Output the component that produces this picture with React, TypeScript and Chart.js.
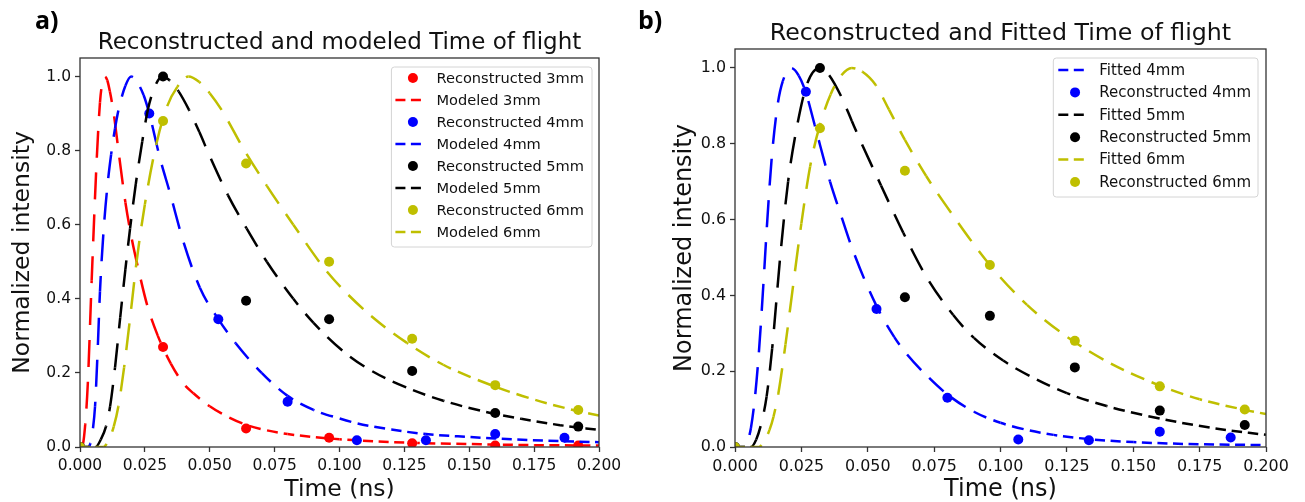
import React, { useEffect, useRef } from 'react';
import { Chart, registerables } from 'chart.js';

Chart.register(...registerables);

const FONT = "'DejaVu Sans', sans-serif";

// ---------- ticks ----------
const xTicks = [0, 0.025, 0.05, 0.075, 0.1, 0.125, 0.15, 0.175, 0.2];
const yTicks = [0, 0.2, 0.4, 0.6, 0.8, 1.0];

// ---------- panel a : reconstructed points ----------
const recTimeA = [0, 0.032, 0.064, 0.096, 0.128, 0.16, 0.192];
const recTime4 = [0, 0.0267, 0.0533, 0.08, 0.1067, 0.1333, 0.16, 0.1867];
const recA3mm = [0, 0.27, 0.05, 0.025, 0.01, 0.004, 0.004];
const recA4mm = [0, 0.9, 0.345, 0.122, 0.018, 0.018, 0.035, 0.025];
const recA5mm = [0, 1.0, 0.395, 0.345, 0.205, 0.092, 0.055];
const recA6mm = [0, 0.88, 0.765, 0.5, 0.292, 0.167, 0.1];

// ---------- panel a : modeled curves ----------
const modA3mmT = [0, 0.001, 0.002, 0.003, 0.0045, 0.0064, 0.0077, 0.0085, 0.0094, 0.0105, 0.0115, 0.013, 0.015, 0.0175, 0.02, 0.0225, 0.026, 0.03, 0.035, 0.04, 0.0437, 0.05, 0.056, 0.064, 0.072, 0.08, 0.09, 0.1, 0.115, 0.13, 0.15, 0.175, 0.2];
const modA3mmV = [0, 0.005, 0.06, 0.17, 0.45, 0.77, 0.93, 0.98, 1.0, 0.99, 0.96, 0.9, 0.79, 0.66, 0.56, 0.48, 0.38, 0.3, 0.225, 0.17, 0.145, 0.11, 0.085, 0.06, 0.045, 0.035, 0.027, 0.021, 0.015, 0.011, 0.008, 0.005, 0.004];

const modA4mmT = [0, 0.003, 0.004, 0.005, 0.0058, 0.0068, 0.0077, 0.009, 0.0105, 0.012, 0.0135, 0.015, 0.0175, 0.0197, 0.022, 0.0245, 0.0267, 0.0308, 0.0347, 0.0398, 0.0462, 0.0533, 0.06, 0.07, 0.08, 0.09, 0.1, 0.1067, 0.12, 0.1333, 0.15, 0.16, 0.18, 0.2];
const modA4mmV = [0, 0, 0.01, 0.05, 0.11, 0.26, 0.42, 0.575, 0.7, 0.79, 0.86, 0.915, 0.975, 1.0, 0.985, 0.95, 0.9, 0.78, 0.685, 0.555, 0.43, 0.345, 0.28, 0.2, 0.138, 0.1, 0.077, 0.064, 0.047, 0.035, 0.027, 0.023, 0.017, 0.013];

const modA5mmT = [0, 0.006, 0.008, 0.01, 0.0116, 0.0135, 0.0155, 0.0175, 0.0193, 0.0215, 0.024, 0.0263, 0.029, 0.0317, 0.0345, 0.038, 0.042, 0.046, 0.05, 0.057, 0.0642, 0.072, 0.0822, 0.09, 0.1015, 0.112, 0.126, 0.14, 0.155, 0.17, 0.185, 0.2];
const modA5mmV = [0, 0, 0.02, 0.055, 0.11, 0.215, 0.35, 0.48, 0.59, 0.71, 0.825, 0.915, 0.975, 1.0, 0.99, 0.96, 0.91, 0.85, 0.785, 0.68, 0.59, 0.5, 0.4, 0.335, 0.258, 0.207, 0.16, 0.125, 0.097, 0.076, 0.059, 0.046];

const modA6mmT = [0, 0.009, 0.011, 0.013, 0.0148, 0.017, 0.0195, 0.0218, 0.025, 0.0295, 0.0335, 0.0375, 0.0418, 0.046, 0.05, 0.055, 0.063, 0.072, 0.0822, 0.095, 0.11, 0.126, 0.14, 0.16, 0.175, 0.19, 0.2];
const modA6mmV = [0, 0, 0.018, 0.055, 0.11, 0.215, 0.36, 0.5, 0.655, 0.82, 0.918, 0.972, 1.0, 0.985, 0.955, 0.905, 0.805, 0.705, 0.6, 0.475, 0.367, 0.281, 0.222, 0.163, 0.128, 0.1, 0.085];

// ---------- panel b : reconstructed points ----------
const recB4mm = [0, 0.937, 0.364, 0.13, 0.02, 0.018, 0.04, 0.025];
const recB5mm = [0, 1.0, 0.395, 0.346, 0.21, 0.096, 0.058];
const recB6mm = [0, 0.841, 0.729, 0.48, 0.28, 0.16, 0.099];

// ---------- panel b : fitted curves ----------
const fitB4mmT = [0, 0.004, 0.005, 0.006, 0.0075, 0.009, 0.0107, 0.012, 0.0138, 0.016, 0.018, 0.0211, 0.024, 0.0266, 0.03, 0.0358, 0.04, 0.0446, 0.0531, 0.06, 0.0647, 0.072, 0.0803, 0.09, 0.1, 0.11, 0.12, 0.133, 0.15, 0.17, 0.2];
const fitB4mmV = [0, 0, 0.02, 0.05, 0.13, 0.25, 0.43, 0.58, 0.76, 0.9, 0.965, 1.0, 0.98, 0.937, 0.85, 0.7, 0.61, 0.515, 0.375, 0.29, 0.245, 0.19, 0.137, 0.093, 0.064, 0.045, 0.032, 0.021, 0.013, 0.008, 0.005];

const fitB5mmT = [0, 0.006, 0.008, 0.01, 0.0119, 0.014, 0.017, 0.02, 0.0232, 0.027, 0.0318, 0.035, 0.04, 0.044, 0.0471, 0.055, 0.0634, 0.072, 0.0822, 0.09, 0.101, 0.112, 0.125, 0.14, 0.16, 0.18, 0.2];
const fitB5mmV = [0, 0, 0.02, 0.065, 0.133, 0.26, 0.5, 0.7, 0.84, 0.955, 1.0, 0.985, 0.925, 0.86, 0.81, 0.69, 0.565, 0.45, 0.348, 0.288, 0.228, 0.184, 0.142, 0.108, 0.075, 0.05, 0.032];

const fitB6mmT = [0, 0.009, 0.011, 0.013, 0.0145, 0.0163, 0.019, 0.022, 0.025, 0.0283, 0.0318, 0.036, 0.04, 0.044, 0.048, 0.053, 0.058, 0.064, 0.072, 0.0822, 0.096, 0.11, 0.125, 0.14, 0.16, 0.175, 0.192, 0.2];
const fitB6mmV = [0, 0, 0.015, 0.045, 0.08, 0.14, 0.27, 0.432, 0.59, 0.74, 0.845, 0.93, 0.98, 1.0, 0.99, 0.955, 0.89, 0.81, 0.715, 0.61, 0.48, 0.375, 0.291, 0.226, 0.162, 0.126, 0.098, 0.087];

const RED = '#ff0000';
const BLUE = '#0000ff';
const BLACK = '#000000';
const OLIVE = '#bfbf00';
const DASH = [10, 5.5];
const CYCLE = DASH[0] + DASH[1];
const STEEP_STRETCH = 2.7;

function pts(t: number[], v: number[]) {
  return t.map((x, i) => ({ x, y: v[i] }));
}

// dash scale of a piece of curve: longer dashes on steep parts, as in the source figure
function stretchOf(a: any, b: any) {
  const dx = Math.abs(b.x - a.x);
  const dy = Math.abs(b.y - a.y);
  const len = Math.hypot(dx, dy) || 1;
  return Math.sqrt((dx / len) ** 2 + STEEP_STRETCH * STEEP_STRETCH * (dy / len) ** 2);
}

function dashInfo(c: any) {
  const els = c.chart.getDatasetMeta(c.datasetIndex).data;
  let phase = 0;
  for (let k = 0; k < c.p0DataIndex; k++) {
    const a = els[k];
    const b = els[k + 1];
    phase += Math.hypot(b.x - a.x, b.y - a.y) / (CYCLE * stretchOf(a, b));
  }
  const f = stretchOf(c.p0, c.p1);
  return { dash: [DASH[0] * f, DASH[1] * f], offset: (phase % 1) * CYCLE * f };
}

function scatterDs(label: string, color: string, t: number[], v: number[]) {
  return {
    label,
    data: pts(t, v),
    showLine: false,
    pointRadius: 5,
    pointHoverRadius: 5,
    pointBorderWidth: 0,
    backgroundColor: color,
    borderColor: color,
    pointBackgroundColor: color,
    clip: 0,
  };
}

function lineDs(label: string, color: string, t: number[], v: number[]) {
  return {
    label,
    data: pts(t, v),
    showLine: true,
    pointRadius: 0,
    borderWidth: 2.5,
    borderDash: DASH,
    borderCapStyle: 'butt',
    borderColor: color,
    backgroundColor: color,
    fill: false,
    cubicInterpolationMode: 'monotone',
    segment: {
      borderDash: (c: any) => dashInfo(c).dash,
      borderDashOffset: (c: any) => dashInfo(c).offset,
    },
    clip: 0,
  };
}

const decorPlugin = {
  id: 'mplDecor',
  afterDatasetsDraw(chart: any, _args: any, opts: any) {
    const { ctx, chartArea: ca } = chart;
    ctx.save();
    // frame
    ctx.strokeStyle = '#333333';
    ctx.lineWidth = 1.3;
    ctx.strokeRect(ca.left, ca.top, ca.right - ca.left, ca.bottom - ca.top);
    // title
    ctx.fillStyle = '#111111';
    ctx.font = `${opts.titleFont}px ${FONT}`;
    ctx.textAlign = 'center';
    ctx.textBaseline = 'alphabetic';
    ctx.fillText(opts.title, (ca.left + ca.right) / 2, ca.top - opts.titleGap);
    // legend
    const fs = opts.legendFont;
    ctx.font = `${fs}px ${FONT}`;
    const ds = chart.data.datasets;
    const items = ds.map((d: any) => ({ label: d.label, color: d.borderColor, kind: d.showLine ? 'line' : 'marker' }));
    const textW = Math.max(...items.map((it: any) => ctx.measureText(it.label).width));
    const { padL, handle, gapT, padR, markOff } = opts;
    const w = padL + handle + gapT + textW + padR;
    const h = items.length * opts.rowH + opts.extraH;
    const x0 = ca.right - opts.offRight - w;
    const y0 = ca.top + opts.offTop;
    ctx.beginPath();
    (ctx as any).roundRect(x0, y0, w, h, 3);
    ctx.fillStyle = 'rgba(255,255,255,0.8)';
    ctx.fill();
    ctx.strokeStyle = '#d4d4d4';
    ctx.lineWidth = 1;
    ctx.stroke();
    ctx.textAlign = 'left';
    ctx.textBaseline = 'middle';
    items.forEach((it: any, i: number) => {
      const cy = y0 + opts.firstRow + i * opts.rowH;
      if (it.kind === 'line') {
        ctx.save();
        ctx.strokeStyle = it.color;
        ctx.lineWidth = 2.5;
        ctx.setLineDash(DASH);
        ctx.beginPath();
        ctx.moveTo(x0 + padL, cy);
        ctx.lineTo(x0 + padL + handle, cy);
        ctx.stroke();
        ctx.restore();
      } else {
        ctx.beginPath();
        ctx.fillStyle = it.color;
        ctx.arc(x0 + padL + handle / 2 + markOff, cy, 5, 0, Math.PI * 2);
        ctx.fill();
      }
      ctx.fillStyle = '#111111';
      ctx.fillText(it.label, x0 + padL + handle + gapT, cy + 1);
    });
    ctx.restore();
  },
};

function makeOptions(cfg: any) {
  return {
    animation: false,
    responsive: false,
    devicePixelRatio: 1,
    events: [],
    layout: { padding: { top: cfg.top, right: cfg.right, left: 0, bottom: 0 } },
    plugins: {
      legend: { display: false },
      tooltip: { enabled: false },
      title: { display: false },
      mplDecor: cfg.decor,
    },
    scales: {
      x: {
        type: 'linear',
        min: 0,
        max: 0.2,
        afterBuildTicks: (s: any) => {
          s.ticks = xTicks.map((v) => ({ value: v }));
        },
        afterFit: (s: any) => {
          s.height = cfg.xHeight;
        },
        ticks: {
          callback: (v: any) => Number(v).toFixed(3),
          font: { family: FONT, size: cfg.tickFont },
          color: '#111111',
          padding: 5,
          maxRotation: 0,
          autoSkip: false,
        },
        grid: { drawOnChartArea: false, drawTicks: true, tickLength: 5, tickColor: '#333333', tickWidth: 1.3 },
        border: { display: false },
        title: {
          display: true,
          text: 'Time (ns)',
          font: { family: FONT, size: cfg.labelFont, lineHeight: 1.0 },
          color: '#111111',
          padding: 0,
        },
      },
      y: {
        type: 'linear',
        min: 0,
        max: 1.05,
        afterBuildTicks: (s: any) => {
          s.ticks = yTicks.map((v) => ({ value: v }));
        },
        afterFit: (s: any) => {
          s.width = cfg.yWidth;
        },
        ticks: {
          callback: (v: any) => Number(v).toFixed(1),
          font: { family: FONT, size: cfg.tickFont },
          color: '#111111',
          padding: 4,
          autoSkip: false,
        },
        grid: { drawOnChartArea: false, drawTicks: true, tickLength: 5, tickColor: '#333333', tickWidth: 1.3 },
        border: { display: false },
        title: {
          display: true,
          text: 'Normalized intensity',
          font: { family: FONT, size: cfg.labelFont },
          color: '#111111',
          padding: { top: cfg.yTitlePad, bottom: 0 },
        },
      },
    },
  };
}

function Panel(props: { datasets: any[]; cfg: any; width: number; height: number; left: number }) {
  const ref = useRef<HTMLCanvasElement | null>(null);
  useEffect(() => {
    if (!ref.current) return;
    const chart = new Chart(ref.current, {
      type: 'scatter',
      data: { datasets: props.datasets.map((d, i) => ({ ...d, order: props.datasets.length - i })) },
      options: makeOptions(props.cfg) as any,
      plugins: [decorPlugin],
    });
    return () => chart.destroy();
  }, []);
  return (
    <canvas
      ref={ref}
      width={props.width}
      height={props.height}
      style={{ position: 'absolute', left: props.left, top: 0, width: props.width, height: props.height }}
    />
  );
}

const datasetsA = [
  scatterDs('Reconstructed 3mm', RED, recTimeA, recA3mm),
  lineDs('Modeled 3mm', RED, modA3mmT, modA3mmV),
  scatterDs('Reconstructed 4mm', BLUE, recTime4, recA4mm),
  lineDs('Modeled 4mm', BLUE, modA4mmT, modA4mmV),
  scatterDs('Reconstructed 5mm', BLACK, recTimeA, recA5mm),
  lineDs('Modeled 5mm', BLACK, modA5mmT, modA5mmV),
  scatterDs('Reconstructed 6mm', OLIVE, recTimeA, recA6mm),
  lineDs('Modeled 6mm', OLIVE, modA6mmT, modA6mmV),
];

const datasetsB = [
  lineDs('Fitted 4mm', BLUE, fitB4mmT, fitB4mmV),
  scatterDs('Reconstructed 4mm', BLUE, recTime4, recB4mm),
  lineDs('Fitted 5mm', BLACK, fitB5mmT, fitB5mmV),
  scatterDs('Reconstructed 5mm', BLACK, recTimeA, recB5mm),
  lineDs('Fitted 6mm', OLIVE, fitB6mmT, fitB6mmV),
  scatterDs('Reconstructed 6mm', OLIVE, recTimeA, recB6mm),
];

const cfgA = {
  top: 58,
  right: 51,
  xHeight: 55,
  yWidth: 80,
  yTitlePad: 9,
  tickFont: 15.5,
  labelFont: 23.5,
  decor: {
    title: 'Reconstructed and modeled Time of flight',
    titleFont: 23,
    titleGap: 9.5,
    legendFont: 14.6,
    padL: 4,
    handle: 27,
    gapT: 14,
    padR: 8,
    markOff: 4,
    rowH: 22,
    extraH: 4,
    firstRow: 11,
    offRight: 7,
    offTop: 9,
  },
};

const cfgB = {
  top: 49,
  right: 39,
  xHeight: 55,
  yWidth: 85,
  yTitlePad: 20,
  tickFont: 15.9,
  labelFont: 24,
  decor: {
    title: 'Reconstructed and Fitted Time of flight',
    titleFont: 23.7,
    titleGap: 9.5,
    legendFont: 15,
    padL: 5,
    handle: 27.5,
    gapT: 13.5,
    padR: 7,
    markOff: 3,
    rowH: 22.4,
    extraH: 4.6,
    firstRow: 12,
    offRight: 8,
    offTop: 9,
  },
};

const labelStyle: React.CSSProperties = {
  position: 'absolute',
  top: 4,
  fontFamily: "'Open Sans', sans-serif",
  fontWeight: 700,
  fontSize: 25,
  color: '#000',
  lineHeight: '30px',
};

export default function App() {
  return (
    <div style={{ position: 'absolute', left: 0, top: 0, width: 1305, height: 502, background: '#fff', overflow: 'hidden' }}>
      <Panel datasets={datasetsA} cfg={cfgA} width={650} height={502} left={0} />
      <Panel datasets={datasetsB} cfg={cfgB} width={655} height={502} left={650} />
      <div style={{ ...labelStyle, left: 35 }}>a)</div>
      <div style={{ ...labelStyle, left: 638 }}>b)</div>
    </div>
  );
}
